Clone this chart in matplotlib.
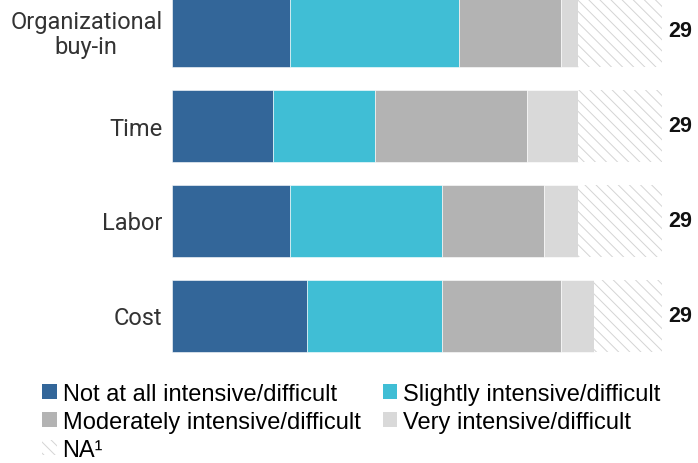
import matplotlib.pyplot as plt
from matplotlib.patches import Patch

plt.rcParams['hatch.linewidth'] = 0.7

# survey counts per barrier (n = 29 each)
categories = ['Organizational\nbuy-in', 'Time', 'Labor', 'Cost']
not_at_all = [7, 6, 7, 8]
slightly = [10, 6, 9, 8]
moderately = [6, 9, 6, 7]
very = [1, 3, 2, 2]
na = [5, 5, 5, 4]
totals = [29, 29, 29, 29]

series = [
    ('Not at all intensive/difficult', not_at_all, '#336699'),
    ('Slightly intensive/difficult', slightly, '#40BED5'),
    ('Moderately intensive/difficult', moderately, '#B3B3B3'),
    ('Very intensive/difficult', very, '#D9D9D9'),
]

fig = plt.figure(figsize=(6.98, 4.64), dpi=100)
ax = fig.add_axes([172 / 698, 1 - 360 / 464, 490 / 698, 360 / 464])

ypos = list(range(len(categories)))
height = 72 / 95
left = [0] * len(categories)
handles = []
for label, vals, color in series:
    ax.barh(ypos, vals, left=left, height=height, color=color,
            edgecolor='white', linewidth=0.4)
    left = [l + v for l, v in zip(left, vals)]
    handles.append(Patch(facecolor=color, edgecolor='none', label=label))

ax.barh(ypos, na, left=left, height=height, color='white',
        edgecolor='#d4d4d4', linewidth=0, hatch='\\\\\\')
handles.append(Patch(facecolor='white', edgecolor='#d4d4d4', linewidth=0,
                     hatch='\\\\\\', label='NA¹'))

for y, t in zip(ypos, totals):
    ax.text(29.35, y, str(t), ha='left', va='center', fontsize=15.5,
            fontweight='bold', family='Liberation Sans', color='#111111')

ax.set_xlim(0, 29)
ax.set_ylim((360 - 31.5) / 95, -31.5 / 95)
ax.set_yticks(ypos)
ax.set_yticklabels(categories, fontsize=17, family='Roboto', color='#333333',
                   ha='right', multialignment='center', linespacing=1.1)
ax.tick_params(axis='y', length=0, pad=7)
ax.set_xticks([])
for s in ax.spines.values():
    s.set_visible(False)

order = [0, 2, 4, 1, 3]
fig.legend([handles[i] for i in order], [handles[i].get_label() for i in order],
           loc='upper left', bbox_to_anchor=(42 / 698, 1 - 384 / 464), ncol=2,
           frameon=False, borderpad=0, borderaxespad=0, handlelength=0.62,
           handleheight=0.62, handletextpad=0.25, columnspacing=0.95,
           labelspacing=0.245, prop={'family': 'Liberation Sans', 'size': 17})

fig.savefig('out.png', dpi=100)
